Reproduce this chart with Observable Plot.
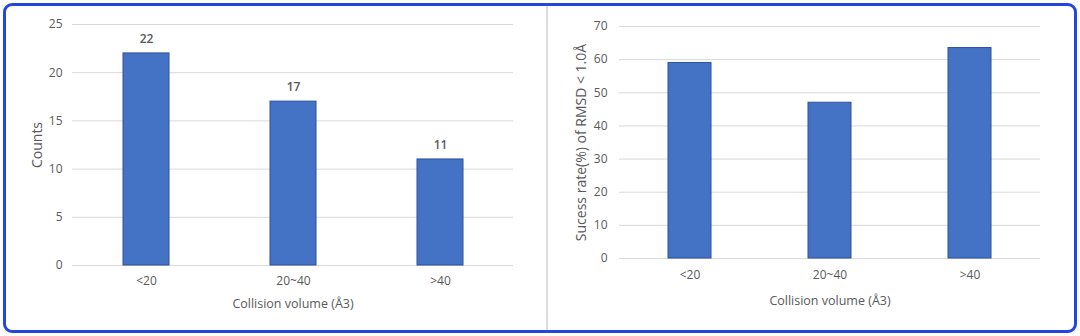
<!DOCTYPE html>
<html>
<head>
<meta charset="utf-8">
<script src="https://cdn.jsdelivr.net/npm/d3@7"></script>
<script src="https://cdn.jsdelivr.net/npm/@observablehq/plot@0.6"></script>
<style>
  html, body { margin: 0; padding: 0; background: #fff; }
  #wrap { position: relative; width: 1080px; height: 336px; overflow: hidden; }
  #frame { position: absolute; left: 3px; top: 3px; width: 1068px; height: 324px;
           border: 3px solid #2446e0; border-radius: 9px; pointer-events: none; }
  #divider { position: absolute; left: 546px; top: 5px; width: 2px; height: 326px; background: #dcdcdc; }
  #left { position: absolute; left: 0; top: 0; }
  #right { position: absolute; left: 547px; top: 0; }
  svg text { fill: #595959; }
  svg g[aria-label="y-axis label"] text { font-size: 14px; }
  svg g[aria-label="x-axis label"] text { font-size: 12.5px; }
</style>
</head>
<body>
<div id="wrap">
  <div id="left"></div>
  <div id="divider"></div>
  <div id="right"></div>
  <div id="frame"></div>
</div>
<script>
const categories = ["<20", "20~40", ">40"];
const counts = [22, 17, 11];
const successRates = [59, 47, 63.5];
const countTicks = [0, 5, 10, 15, 20, 25];
const rateTicks = [0, 10, 20, 30, 40, 50, 60, 70];
const xTitle = "Collision volume (Å3)";
const leftYTitle = "Counts";
const rightYTitle = "Sucess rate(%) of RMSD < 1.0Å";

const countData = categories.map((c, i) => ({category: c, value: counts[i]}));
const rateData = categories.map((c, i) => ({category: c, value: successRates[i]}));

const barFill = "#4472c4";
const barStroke = "#2c50a3";
const gridColor = "#d9d9d9";
const font = "'Open Sans', 'Noto Sans', sans-serif";

function chart(data, opts) {
  return Plot.plot({
    width: opts.width,
    height: 336,
    marginLeft: opts.marginLeft,
    marginRight: opts.marginRight,
    marginTop: opts.marginTop,
    marginBottom: opts.marginBottom,
    style: {fontFamily: font, fontSize: "12px", color: "#595959", background: "transparent"},
    x: {domain: categories, paddingInner: 0.69, paddingOuter: 0.345, label: xTitle,
        labelAnchor: "center", labelOffset: opts.xLabelOffset, tickSize: 0, tickPadding: opts.xTickPadding},
    y: {domain: opts.domain, ticks: opts.ticks, label: opts.yTitle, labelAnchor: "center",
        labelArrow: "none", labelOffset: opts.yLabelOffset, tickSize: 0, tickPadding: opts.yTickPadding},
    marks: [
      Plot.gridY(opts.ticks, {stroke: gridColor, strokeOpacity: 1, strokeWidth: 1}),
      Plot.barY(data, {x: "category", y: "value", fill: barFill, stroke: barStroke, strokeWidth: 1}),
      ...(opts.showValues ? [Plot.text(data, {x: "category", y: "value", text: d => String(d.value),
        dy: -14, fontSize: 12, fontWeight: 600, fill: "#404040"})] : [])
    ]
  });
}

const leftChart = chart(countData, {
  width: 547, marginLeft: 72, marginRight: 34, marginTop: 24, marginBottom: 71,
  domain: [0, 25], ticks: countTicks, yTitle: leftYTitle, showValues: true,
  xLabelOffset: 42, xTickPadding: 11, yLabelOffset: 40, yTickPadding: 10
});
const rightChart = chart(rateData, {
  width: 533, marginLeft: 72, marginRight: 40, marginTop: 26, marginBottom: 78,
  domain: [0, 70], ticks: rateTicks, yTitle: rightYTitle, showValues: false,
  xLabelOffset: 46, xTickPadding: 12, yLabelOffset: 43, yTickPadding: 12
});
document.getElementById("left").appendChild(leftChart);
document.getElementById("right").appendChild(rightChart);
</script>
</body>
</html>
